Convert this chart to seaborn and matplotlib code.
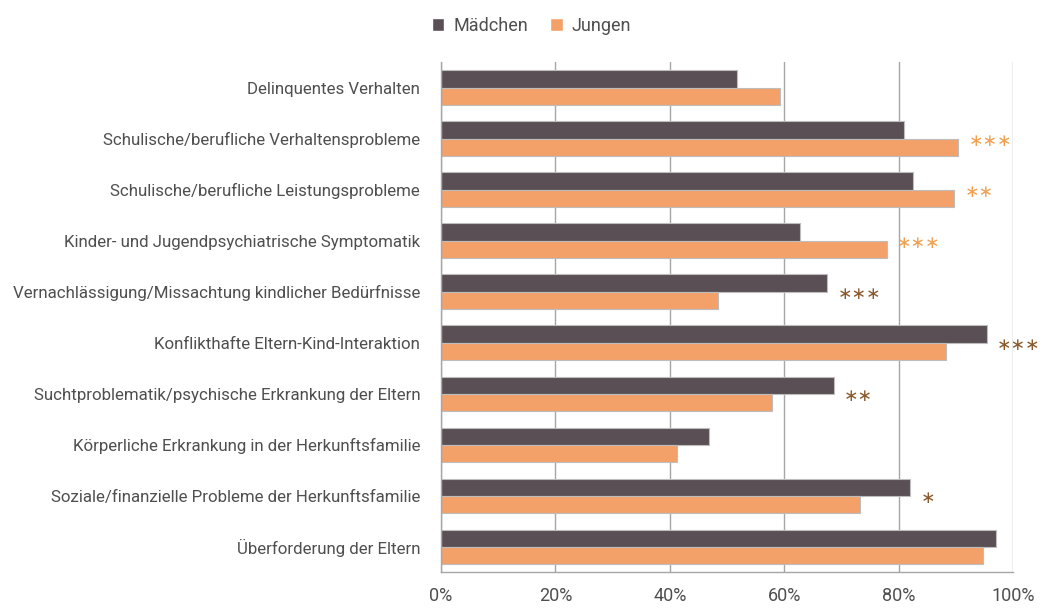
import numpy as np
import pandas as pd
import matplotlib
matplotlib.use("Agg")
import matplotlib.pyplot as plt
from matplotlib.patches import Patch
import seaborn as sns

# Daten (Anteile in %)
kategorien = [
    "Delinquentes Verhalten",
    "Schulische/berufliche Verhaltensprobleme",
    "Schulische/berufliche Leistungsprobleme",
    "Kinder- und Jugendpsychiatrische Symptomatik",
    "Vernachlässigung/Missachtung kindlicher Bedürfnisse",
    "Konflikthafte Eltern-Kind-Interaktion",
    "Suchtproblematik/psychische Erkrankung der Eltern",
    "Körperliche Erkrankung in der Herkunftsfamilie",
    "Soziale/finanzielle Probleme der Herkunftsfamilie",
    "Überforderung der Eltern",
]
maedchen = [51.8, 81.0, 82.5, 62.8, 67.5, 95.4, 68.7, 46.9, 82.0, 97.0]
jungen = [59.2, 90.4, 89.7, 77.9, 48.5, 88.3, 57.8, 41.2, 73.3, 94.7]
signifikanz = ["", "***", "**", "***", "***", "***", "**", "", "*", ""]
xticks = [0, 20, 40, 60, 80, 100]

farbe_m = "#594F54"
farbe_j = "#F4A069"
stern_j = "#F0A050"
stern_m = "#8A5A2E"
textfarbe = "#4F4F4F"

df = pd.DataFrame({
    "Kategorie": kategorien * 2,
    "Wert": maedchen + jungen,
    "Geschlecht": ["Mädchen"] * len(kategorien) + ["Jungen"] * len(kategorien),
})

sns.set_style("white")
plt.rcParams["font.family"] = ["Roboto", "DejaVu Sans"]

fig = plt.figure(figsize=(10.42, 6.08), dpi=100)
ax = fig.add_axes([0.4232, 0.059, 0.549, 0.839])

sns.barplot(data=df, y="Kategorie", x="Wert", hue="Geschlecht", orient="h",
            palette={"Mädchen": farbe_m, "Jungen": farbe_j}, width=0.67,
            saturation=1, edgecolor="#BDBDBD", linewidth=0.8, legend=False, ax=ax)

ax.set_xlim(0, 100)
ax.set_ylim(len(kategorien) - 0.5, -0.5)
ax.set_xticks(xticks)
ax.set_xticklabels([f"{t}%" for t in xticks], fontsize=13, color=textfarbe)
ax.grid(axis="x", color="#A6A6A6", linewidth=1)
ax.set_axisbelow(True)
ax.set_xlabel("")
ax.set_ylabel("")

# Kategorienamen ohne Ticks, Ticks an den Grenzen
ax.set_yticks(range(len(kategorien)))
ax.set_yticklabels(kategorien, fontsize=12.2, color=textfarbe)
ax.tick_params(axis="y", length=0, pad=15)
ax.set_yticks(np.arange(-0.5, len(kategorien)), minor=True)
ax.tick_params(axis="y", which="minor", length=5, color="#A6A6A6", width=1)
ax.tick_params(axis="x", length=5, color="#A6A6A6", width=1, pad=6)

for s in ["top", "right"]:
    ax.spines[s].set_visible(False)
for s in ["left", "bottom"]:
    ax.spines[s].set_color("#A6A6A6")
    ax.spines[s].set_linewidth(1)

# Signifikanzsterne
for i, sig in enumerate(signifikanz):
    if not sig:
        continue
    farbe = stern_j if jungen[i] > maedchen[i] else stern_m
    ax.text(max(maedchen[i], jungen[i]) + 1.8, i + 0.05, "\u2217" * len(sig),
            color=farbe, fontsize=12.5, ha="left", va="center",
            family="DejaVu Sans", clip_on=False)

# Legende oben
handles = [Patch(facecolor=farbe_m, label="Mädchen"),
           Patch(facecolor=farbe_j, label="Jungen")]
fig.legend(handles=handles, loc="center", bbox_to_anchor=(0.51, 0.958), ncol=2,
           frameon=False, fontsize=13, handlelength=0.7, handleheight=0.7,
           columnspacing=1.2, handletextpad=0.5, labelcolor=textfarbe)

fig.savefig("out.png", dpi=100)
